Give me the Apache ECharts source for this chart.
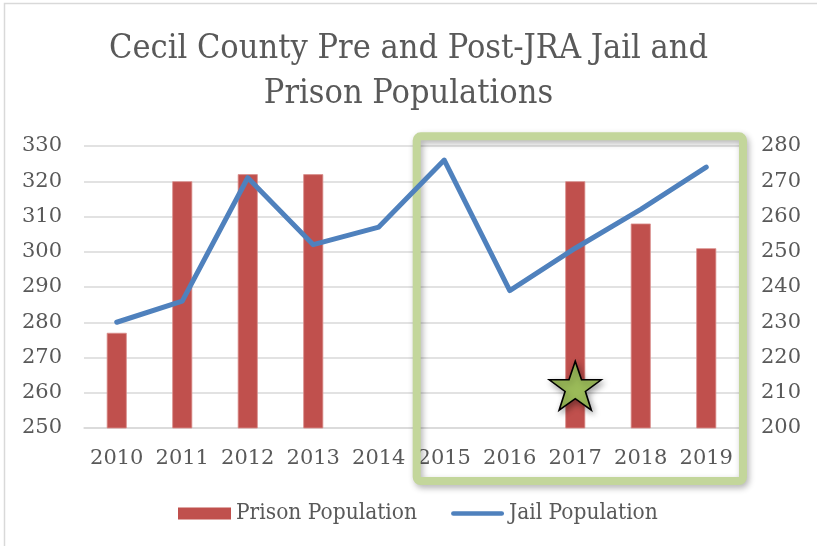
<!DOCTYPE html>
<html>
<head>
<meta charset="utf-8">
<script src="https://cdn.jsdelivr.net/npm/echarts@6/dist/echarts.min.js"></script>
<style>
  html, body { margin: 0; padding: 0; background: #fff; }
  #chart { width: 817px; height: 546px; }
</style>
</head>
<body>
<div id="chart"></div>
<script>
// Years on the category axis
const years = ['2010', '2011', '2012', '2013', '2014', '2015', '2016', '2017', '2018', '2019'];
// Prison population (left axis); no figures for 2014-2016
const prisonPopulation = [277, 320, 322, 322, null, null, null, 320, 308, 301];
// Jail population (right axis)
const jailPopulation = [230, 236, 271, 252, 257, 276, 239, 251, 262, 274];
// Axis ranges
const prisonTicks = { min: 250, max: 330, step: 10 };
const jailTicks = { min: 200, max: 280, step: 10 };
// Star marker placed on the 2017 prison bar (left-axis units)
const starAt = ['2017', 262];

const TEXT = '#595959';
const FONT = 'DejaVu Serif';
const STAR = 'path://M50,0 L61.8,35.1 L98.9,35.1 L69.1,57.3 L80.3,92.7 L50,71 L19.7,92.7 L30.9,57.3 L1.1,35.1 L38.2,35.1 Z';
const LINE_ICON = 'path://M2.5,0 L53.5,0 A2.5,2.5 0 0 1 53.5,5 L2.5,5 A2.5,2.5 0 0 1 2.5,0 Z';

const chart = echarts.init(document.getElementById('chart'), null, { renderer: 'canvas' });

chart.setOption({
  backgroundColor: '#ffffff',
  animation: false,
  title: {
    text: 'Cecil County Pre and Post-JRA Jail and\nPrison Populations',
    left: 'center',
    top: 22,
    textStyle: {
      fontFamily: 'DejaVu Serif Condensed',
      fontWeight: 'normal',
      fontSize: 34,
      lineHeight: 45,
      color: TEXT
    }
  },
  grid: { left: 84, right: 78, top: 146, bottom: 118 },
  legend: {
    left: 173,
    top: 497,
    itemWidth: 53,
    itemHeight: 12,
    itemGap: 34,
    textStyle: { fontFamily: 'DejaVu Serif Condensed', fontSize: 22.5, color: TEXT },
    data: [
      { name: 'Prison Population', icon: 'rect', itemStyle: { borderWidth: 0 } },
      { name: 'Jail Population', icon: LINE_ICON }
    ]
  },
  xAxis: {
    type: 'category',
    data: years,
    axisLine: { show: true, lineStyle: { color: '#d9d9d9', width: 1.5 } },
    axisTick: { show: false },
    axisLabel: { interval: 0, fontFamily: FONT, fontSize: 21, color: TEXT, margin: 20 }
  },
  yAxis: [
    {
      type: 'value',
      min: prisonTicks.min, max: prisonTicks.max, interval: prisonTicks.step,
      axisLine: { show: false }, axisTick: { show: false },
      splitLine: { lineStyle: { color: '#d9d9d9', width: 1.5 } },
      axisLabel: { fontFamily: FONT, fontSize: 21, color: TEXT, margin: 22 }
    },
    {
      type: 'value',
      min: jailTicks.min, max: jailTicks.max, interval: jailTicks.step,
      axisLine: { show: false }, axisTick: { show: false },
      splitLine: { show: false },
      axisLabel: { fontFamily: FONT, fontSize: 21, color: TEXT, margin: 22 }
    }
  ],
  series: [
    {
      name: 'Prison Population',
      type: 'bar',
      yAxisIndex: 0,
      data: prisonPopulation,
      barWidth: 20,
      itemStyle: { color: '#C0504D', borderColor: '#d98e8c', borderWidth: 0.8 },
      markPoint: {
        symbol: STAR,
        symbolSize: [52, 49],
        symbolKeepAspect: false,
        label: { show: false },
        itemStyle: {
          color: '#9BBB59', borderColor: '#000', borderWidth: 1.6,
          shadowBlur: 6, shadowOffsetX: 2, shadowOffsetY: 3, shadowColor: 'rgba(0,0,0,0.35)'
        },
        data: [{ coord: starAt }]
      },
      z: 2
    },
    {
      name: 'Jail Population',
      type: 'line',
      yAxisIndex: 1,
      data: jailPopulation,
      symbol: 'none',
      lineStyle: { color: '#4F81BD', width: 5, cap: 'round', join: 'round' },
      itemStyle: { color: '#4F81BD' },
      z: 4
    }
  ],
  graphic: [
    {
      // outer chart frame
      type: 'rect',
      silent: true,
      shape: { x: 4.5, y: 3.5, width: 830, height: 560 },
      style: { fill: null, stroke: '#d9d9d9', lineWidth: 1.5 },
      z: 0
    },
    {
      // post-JRA highlight box
      type: 'rect',
      silent: true,
      shape: { x: 416.7, y: 136.3, width: 326.3, height: 344.7, r: 4 },
      style: {
        fill: null, stroke: '#C3D69B', lineWidth: 8,
        shadowBlur: 6, shadowOffsetX: 2, shadowOffsetY: 3, shadowColor: 'rgba(0,0,0,0.3)'
      },
      z: 1
    }
  ]
});
</script>
</body>
</html>
